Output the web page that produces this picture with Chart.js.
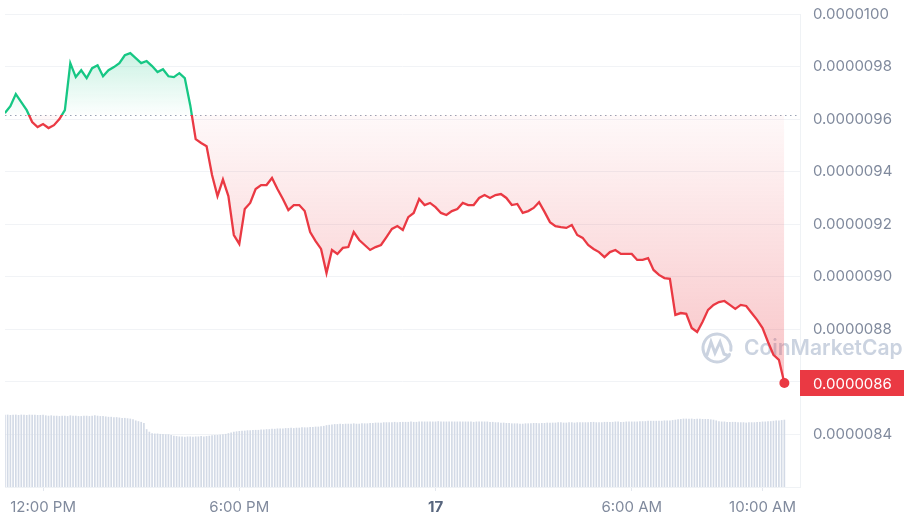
<!DOCTYPE html>
<html>
<head>
<meta charset="utf-8">
<script src="https://cdn.jsdelivr.net/npm/chart.js@4.4.0/dist/chart.umd.min.js"></script>
<style>
    html, body { margin: 0; padding: 0; background: #ffffff; }
    #grafico { display: block; }
</style>
</head>
<body>
<canvas id="grafico" width="904" height="522"></canvas>
<script>

// ==========================
// Dados
// ==========================

const startHour = 10 + 50 / 60;      // 10:50 AM, first sample
const priceStepHours = 10 / 60;      // one price every 10 minutes
const volumeStepHours = 5 / 60;      // one volume bar every 5 minutes

const prices = [
    9.623e-6, 9.649e-6, 9.695e-6, 9.665e-6, 9.634e-6, 9.589e-6, 9.570e-6, 9.581e-6, 9.566e-6, 9.577e-6,
    9.600e-6, 9.634e-6, 9.813e-6, 9.760e-6, 9.786e-6, 9.756e-6, 9.794e-6, 9.805e-6, 9.763e-6, 9.786e-6,
    9.798e-6, 9.813e-6, 9.843e-6, 9.851e-6, 9.832e-6, 9.813e-6, 9.821e-6, 9.802e-6, 9.779e-6, 9.790e-6,
    9.763e-6, 9.760e-6, 9.775e-6, 9.756e-6, 9.653e-6, 9.524e-6, 9.509e-6, 9.497e-6, 9.387e-6, 9.307e-6,
    9.370e-6, 9.307e-6, 9.159e-6, 9.125e-6, 9.258e-6, 9.281e-6, 9.334e-6, 9.349e-6, 9.349e-6, 9.376e-6,
    9.334e-6, 9.296e-6, 9.254e-6, 9.273e-6, 9.273e-6, 9.250e-6, 9.170e-6, 9.136e-6, 9.106e-6, 9.014e-6,
    9.102e-6, 9.087e-6, 9.110e-6, 9.113e-6, 9.170e-6, 9.140e-6, 9.121e-6, 9.102e-6, 9.113e-6, 9.121e-6,
    9.151e-6, 9.182e-6, 9.193e-6, 9.178e-6, 9.227e-6, 9.243e-6, 9.296e-6, 9.273e-6, 9.281e-6, 9.265e-6,
    9.243e-6, 9.235e-6, 9.250e-6, 9.258e-6, 9.281e-6, 9.273e-6, 9.273e-6, 9.300e-6, 9.311e-6, 9.300e-6,
    9.311e-6, 9.315e-6, 9.300e-6, 9.273e-6, 9.277e-6, 9.243e-6, 9.250e-6, 9.262e-6, 9.284e-6, 9.247e-6,
    9.208e-6, 9.193e-6, 9.189e-6, 9.186e-6, 9.197e-6, 9.159e-6, 9.148e-6, 9.121e-6, 9.106e-6, 9.094e-6,
    9.075e-6, 9.094e-6, 9.102e-6, 9.087e-6, 9.087e-6, 9.087e-6, 9.064e-6, 9.064e-6, 9.071e-6, 9.026e-6,
    9.007e-6, 8.995e-6, 8.992e-6, 8.855e-6, 8.862e-6, 8.859e-6, 8.805e-6, 8.790e-6, 8.829e-6, 8.874e-6,
    8.893e-6, 8.904e-6, 8.908e-6, 8.893e-6, 8.878e-6, 8.893e-6, 8.889e-6, 8.862e-6, 8.836e-6, 8.805e-6,
    8.752e-6, 8.703e-6, 8.684e-6, 8.596e-6
];

// volume, millions
const volumes = [
    9.9, 9.9, 9.85, 9.9, 9.9, 9.85, 9.9, 9.9, 9.85, 9.9, 9.9, 9.9, 9.85, 9.85, 9.9,
    9.8, 9.75, 9.8, 9.75, 9.75, 9.7, 9.75, 9.75, 9.7, 9.8, 9.75, 9.75, 9.7, 9.7, 9.75, 9.75, 9.7, 9.75, 9.8, 9.75, 9.7, 9.7,
    9.65, 9.6, 9.6, 9.55, 9.55, 9.5, 9.45, 9.45, 9.4, 9.35,
    9.25, 9.1, 9.0, 8.9, 8.75,
    7.9, 7.55,
    7.35, 7.3, 7.3, 7.25, 7.25, 7.2, 7.2, 7.1,
    7.0, 6.95, 6.9, 6.9, 6.85, 6.9, 6.9, 6.85, 6.9, 6.9, 6.95, 6.9, 6.95, 7.0,
    7.05, 7.1, 7.1, 7.15, 7.2, 7.25, 7.35, 7.45,
    7.55, 7.6, 7.65, 7.7, 7.7, 7.75, 7.75, 7.8, 7.8, 7.8, 7.85, 7.85, 7.9, 7.9,
    7.95, 7.95, 8.0, 8.0, 8.0, 8.05, 8.05, 8.1, 8.05, 8.1, 8.1, 8.15, 8.15, 8.15, 8.2, 8.2, 8.25, 8.25, 8.3, 8.35,
    8.45, 8.5, 8.55, 8.6, 8.6, 8.65, 8.6, 8.65, 8.65, 8.65, 8.7, 8.65, 8.65, 8.7, 8.7, 8.7, 8.75,
    8.75, 8.8, 8.8, 8.8, 8.85, 8.85, 8.85, 8.85, 8.9, 8.85, 8.9, 8.9, 8.9, 8.9, 8.95,
    8.9, 8.9, 8.95, 8.95, 8.95, 8.95, 8.95, 8.95, 8.95, 9.0, 8.95, 8.95, 8.95, 8.95, 8.95,
    8.95, 8.95, 8.95, 8.95, 8.95, 8.95, 8.95, 8.9, 8.95, 8.95, 8.95, 8.95, 8.95, 8.9, 8.9, 8.85, 8.85, 8.8, 8.8, 8.75, 8.75,
    8.7, 8.7, 8.7, 8.65, 8.65, 8.7, 8.7, 8.7, 8.75, 8.75, 8.7, 8.75, 8.75, 8.8,
    8.8, 8.8, 8.8, 8.85, 8.85, 8.8, 8.8, 8.85, 8.85, 8.8, 8.85, 8.85, 8.85, 8.85, 8.85, 8.9, 8.9,
    8.85, 8.85, 8.85, 8.9, 8.9, 8.9, 8.9, 8.95, 8.95, 8.9, 8.9, 8.95, 8.95, 8.95, 8.95, 8.95, 9.0, 9.0,
    9.0, 9.05, 9.05, 9.05, 9.05, 9.05, 9.05, 9.1, 9.1, 9.1, 9.15, 9.2, 9.25,
    9.3, 9.35, 9.35, 9.35, 9.35, 9.3, 9.35, 9.35, 9.3, 9.3, 9.3, 9.25, 9.2, 9.1,
    9.0, 8.95, 8.95, 8.9, 8.9, 8.9, 8.9, 8.85, 8.85, 8.85, 8.8, 8.85,
    8.85, 8.85, 8.9, 8.9, 8.95, 8.95, 9.0, 9.0, 9.05, 9.1, 9.1, 9.15, 9.2
];

const baselinePrice = 9.616e-6;      // opening price, dotted line

const priceTicks = [8.4e-6, 8.6e-6, 8.8e-6, 9.0e-6, 9.2e-6, 9.4e-6, 9.6e-6, 9.8e-6, 1.0e-5];
const timeTicks = [12, 18, 24, 30, 34];
const timeLabels = ["12:00 PM", "6:00 PM", "17", "6:00 AM", "10:00 AM"];

const verde = "#16c784";
const vermelho = "#ea3943";
const cinza = "#808a9d";

Chart.defaults.font.family = "Inter";

// ==========================
// Gradientes
// ==========================

function corLinha(chart) {
    const { ctx, chartArea, scales } = chart;
    if (!chartArea) return vermelho;
    const yb = scales.y.getPixelForValue(baselinePrice);
    const stop = (yb - chartArea.top) / (chartArea.bottom - chartArea.top);
    const g = ctx.createLinearGradient(0, chartArea.top, 0, chartArea.bottom);
    g.addColorStop(0, verde);
    g.addColorStop(stop, verde);
    g.addColorStop(stop, vermelho);
    g.addColorStop(1, vermelho);
    return g;
}

function preenchimento(chart) {
    const { ctx, chartArea, scales } = chart;
    if (!chartArea) return { target: { value: baselinePrice }, above: "transparent", below: "transparent" };
    const yb = scales.y.getPixelForValue(baselinePrice);
    const yMax = scales.y.getPixelForValue(Math.max(...prices));
    const yMin = scales.y.getPixelForValue(Math.min(...prices));

    const acima = ctx.createLinearGradient(0, yMax, 0, yb);
    acima.addColorStop(0, "rgba(22, 199, 132, 0.22)");
    acima.addColorStop(1, "rgba(22, 199, 132, 0.01)");

    const abaixo = ctx.createLinearGradient(0, yb, 0, yMin);
    abaixo.addColorStop(0, "rgba(234, 57, 67, 0.03)");
    abaixo.addColorStop(1, "rgba(234, 57, 67, 0.30)");

    return { target: { value: baselinePrice }, above: acima, below: abaixo };
}

// ==========================
// Extras: linha pontilhada, marca d'agua, etiqueta de preco
// ==========================

const extras = {
    id: "extras",

    beforeDatasetsDraw(chart) {
        const { ctx, chartArea, scales } = chart;

        // marca d'agua
        ctx.save();
        ctx.strokeStyle = "#cbd3e0";
        ctx.lineWidth = 3;
        ctx.lineCap = "round";
        ctx.beginPath();
        ctx.arc(717, 348, 14, 0.15 * Math.PI, 2.05 * Math.PI);
        ctx.stroke();
        ctx.beginPath();
        ctx.moveTo(707, 355);
        ctx.lineTo(711, 342);
        ctx.lineTo(715, 353);
        ctx.lineTo(720, 342);
        ctx.lineTo(724, 354);
        ctx.lineTo(729, 356);
        ctx.stroke();
        ctx.fillStyle = "#cbd3e0";
        ctx.font = "600 21px Inter";
        ctx.textBaseline = "middle";
        ctx.fillText("CoinMarketCap", 744, 349);
        ctx.restore();

        // linha de abertura
        const yb = Math.round(scales.y.getPixelForValue(baselinePrice)) + 0.5;
        ctx.save();
        ctx.strokeStyle = "#9aa3b4";
        ctx.lineWidth = 1.2;
        ctx.setLineDash([1.5, 3.5]);
        ctx.beginPath();
        ctx.moveTo(chartArea.left, yb);
        ctx.lineTo(chartArea.right, yb);
        ctx.stroke();
        ctx.restore();
    },

    afterDraw(chart) {
        const { ctx, chartArea, scales } = chart;
        const ultimo = prices[prices.length - 1];
        const y = scales.y.getPixelForValue(ultimo);

        ctx.save();
        ctx.fillStyle = vermelho;
        ctx.fillRect(chartArea.right, Math.round(y) - 13, chart.width - chartArea.right, 26);
        ctx.fillStyle = "#ffffff";
        ctx.font = "15px Inter";
        ctx.textBaseline = "middle";
        ctx.fillText(ultimo.toFixed(7), chartArea.right + 13, Math.round(y) + 1);
        ctx.restore();
    }
};

// ==========================
// Grafico
// ==========================

const ctxGrafico = document.getElementById("grafico").getContext("2d");

new Chart(ctxGrafico, {

    data: {

        datasets: [
            {
                type: "line",
                data: prices.map((p, i) => ({ x: startHour + i * priceStepHours, y: p })),
                yAxisID: "y",
                borderColor: (c) => corLinha(c.chart),
                borderWidth: 2.3,
                tension: 0,
                pointRadius: (c) => c.dataIndex === prices.length - 1 ? 5 : 0,
                pointBackgroundColor: vermelho,
                pointBorderColor: vermelho,
                pointBorderWidth: 0,
                fill: (c) => preenchimento(c.chart),
                order: 0
            },
            {
                type: "bar",
                data: volumes.map((v, i) => ({ x: startHour + i * volumeStepHours, y: v })),
                yAxisID: "yVol",
                backgroundColor: "#d3dae6",
                borderWidth: 0,
                barThickness: 1,
                order: 1
            }
        ]

    },

    options: {

        responsive: false,
        animation: false,

        layout: {
            padding: { top: 14, bottom: 0, left: 0, right: 0 }
        },

        plugins: {
            legend: { display: false },
            tooltip: { enabled: false }
        },

        scales: {

            x: {
                type: "linear",
                min: 10.836,
                max: 35.145,
                offset: false,
                afterBuildTicks: (scale) => {
                    scale.ticks = timeTicks.map(v => ({ value: v }));
                },
                afterFit: (scale) => {
                    scale.height = 35;
                },
                ticks: {
                    autoSkip: false,
                    maxRotation: 0,
                    padding: 7,
                    callback: (v, i) => timeLabels[i],
                    color: (c) => c.index === 2 ? "#58667e" : cinza,
                    font: (c) => ({ family: "Inter", size: 15, weight: c.index === 2 ? "bold" : "normal" })
                },
                grid: {
                    offset: false,
                    drawOnChartArea: false,
                    tickLength: 4,
                    color: "#e3e7ee"
                },
                border: { color: "#eff2f5" }
            },

            y: {
                position: "right",
                min: 8.2e-6,
                max: 1.0e-5,
                afterBuildTicks: (scale) => {
                    scale.ticks = priceTicks.map(v => ({ value: v }));
                },
                afterFit: (scale) => {
                    scale.width = 104;
                    scale.paddingTop = 0;
                    scale.paddingBottom = 0;
                },
                ticks: {
                    padding: 13,
                    color: cinza,
                    font: { family: "Inter", size: 15 },
                    callback: (v) => v.toFixed(7)
                },
                grid: {
                    color: "#f1f3f6",
                    drawTicks: false
                },
                border: { color: "#eff2f5" }
            },

            yVol: {
                display: false,
                min: 0,
                max: 65
            }

        }

    },

    plugins: [extras]

});

</script>
</body>
</html>
